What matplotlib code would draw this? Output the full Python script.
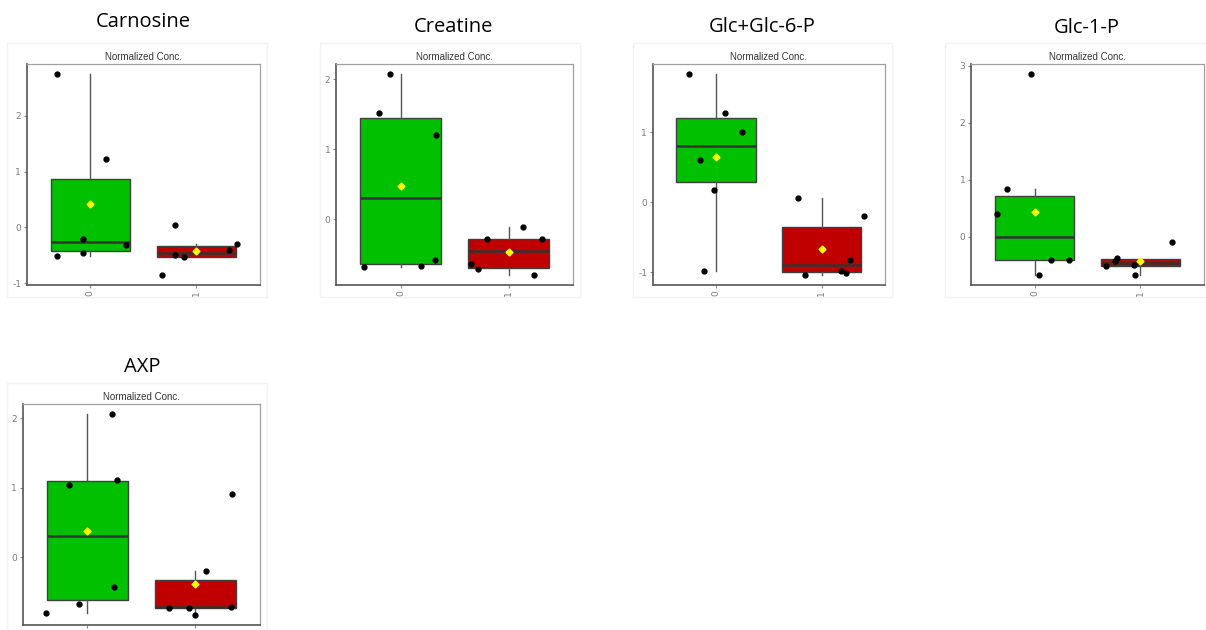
import numpy as np
import matplotlib
matplotlib.use("Agg")
import matplotlib.pyplot as plt
from matplotlib.ticker import MultipleLocator
from matplotlib.patches import Rectangle

plt.rcParams['axes.unicode_minus'] = False

# ---------------- data ----------------
titles = ["Carnosine", "Creatine", "Glc+Glc-6-P", "Glc-1-P", "AXP"]
group_labels = ["0", "1"]
subtitle = "Normalized Conc."

carnosine_g0 = [2.74, 1.22, -0.20, -0.46, -0.51, -0.31]
carnosine_g1 = [0.05, -0.85, -0.50, -0.53, -0.41, -0.30]
carnosine_j0 = [-0.31, 0.15, -0.07, -0.07, -0.31, 0.34]
carnosine_j1 = [-0.20, -0.32, -0.20, -0.12, 0.31, 0.38]

creatine_g0 = [2.07, 1.52, 1.20, -0.68, -0.67, -0.59]
creatine_g1 = [-0.11, -0.28, -0.28, -0.64, -0.72, -0.80]
creatine_j0 = [-0.10, -0.20, 0.33, -0.34, 0.19, 0.32]
creatine_j1 = [0.13, -0.20, 0.31, -0.35, -0.28, 0.24]

glc6p_g0 = [1.83, 1.27, 1.00, 0.61, 0.18, -0.98]
glc6p_g1 = [0.06, -0.20, -0.82, -0.98, -1.01, -1.04]
glc6p_j0 = [-0.26, 0.08, 0.25, -0.15, -0.02, -0.11]
glc6p_j1 = [-0.22, 0.40, 0.27, 0.18, 0.23, -0.16]

glc1p_g0 = [2.85, 0.83, 0.40, -0.40, -0.41, -0.67]
glc1p_g1 = [-0.10, -0.37, -0.43, -0.51, -0.49, -0.67]
glc1p_j0 = [-0.03, -0.26, -0.35, 0.16, 0.33, 0.04]
glc1p_j1 = [0.30, -0.22, -0.24, -0.33, -0.06, -0.05]

axp_g0 = [2.06, 1.11, 1.04, -0.43, -0.67, -0.80]
axp_g1 = [0.91, -0.20, -0.73, -0.73, -0.71, -0.83]
axp_j0 = [0.23, 0.27, -0.17, 0.25, -0.08, -0.38]
axp_j1 = [0.34, 0.10, -0.24, -0.06, 0.33, 0.00]

values = [(carnosine_g0, carnosine_g1), (creatine_g0, creatine_g1),
          (glc6p_g0, glc6p_g1), (glc1p_g0, glc1p_g1), (axp_g0, axp_g1)]
jitters = [(carnosine_j0, carnosine_j1), (creatine_j0, creatine_j1),
           (glc6p_j0, glc6p_j1), (glc1p_j0, glc1p_j1), (axp_j0, axp_j1)]

# ---------------- layout (pixels) ----------------
W, H = 1206, 630
# frame: left, top, right, bottom
frames = [(26.7, 64.3, 260, 285), (336, 64.3, 573.3, 285),
          (652.7, 64.3, 885, 285), (971, 64.3, 1204, 285),
          (22.7, 404.3, 260, 625)]
title_pos = [(143, 22), (453, 27), (762, 27), (1087, 28), (142, 367)]
bg_boxes = [(7, 43, 267, 297), (320, 43, 580, 297), (633, 43, 892, 297),
            (945, 43, 1215, 297), (7, 383, 267, 640)]
# the bottom panel is cut at the image edge in the reference: no visible x labels
show_xlabels = [True, True, True, True, False]

box_colors = ["#00C000", "#C00000"]

fig = plt.figure(figsize=(W / 100, H / 100), dpi=100)

for i, title in enumerate(titles):
    # faint plot background border
    bl, bt, br, bb = bg_boxes[i]
    fig.patches.append(Rectangle((bl / W, 1 - bb / H), (br - bl) / W, (bb - bt) / H,
                                 transform=fig.transFigure, fill=False,
                                 edgecolor="#f2f2f2", linewidth=1.0, zorder=0))
    l, t, r, b = frames[i]
    ax = fig.add_axes([l / W, 1 - b / H, (r - l) / W, (b - t) / H])
    g0, g1 = values[i]
    j0, j1 = jitters[i]

    bp = ax.boxplot([g0, g1], positions=[0, 1], widths=0.75, patch_artist=True,
                    showfliers=False, showcaps=False, showmeans=True,
                    whis=1.5,
                    medianprops=dict(color="#333333", linewidth=1.8),
                    whiskerprops=dict(color="#555555", linewidth=1.0),
                    boxprops=dict(edgecolor="#404040", linewidth=1.0),
                    meanprops=dict(marker="D", markerfacecolor="#FFFF00",
                                   markeredgecolor="#FFFF00", markersize=3.5),
                    zorder=2)
    for patch, c in zip(bp["boxes"], box_colors):
        patch.set_facecolor(c)
    for m in bp["means"]:
        m.set_zorder(5)

    for gi, (vals, jit) in enumerate(((g0, j0), (g1, j1))):
        ax.plot(np.array(jit) + gi, vals, "o", color="black", markersize=3.5,
                linestyle="none", zorder=4)

    allv = np.array(list(g0) + list(g1))
    lo, hi = allv.min(), allv.max()
    pad = 0.05 * (hi - lo)
    ax.set_ylim(lo - pad, hi + pad)
    ax.set_xlim(-0.6, 1.6)
    ax.set_xticks([0, 1])
    if show_xlabels[i]:
        ax.set_xticklabels(group_labels, rotation=90)
    else:
        ax.set_xticklabels([])
    ax.yaxis.set_major_locator(MultipleLocator(1))
    ax.yaxis.set_major_formatter(matplotlib.ticker.FormatStrFormatter("%d"))
    ax.tick_params(axis="both", labelsize=6.5, colors="#888888",
                   labelcolor="#7a7a7a", length=2.5, width=0.8, pad=1.5)
    for side in ("left", "bottom"):
        ax.spines[side].set_color("#555555")
        ax.spines[side].set_linewidth(1.2)
    for side in ("top", "right"):
        ax.spines[side].set_color("#a0a0a0")
        ax.spines[side].set_linewidth(0.9)

    ax.set_title(subtitle, fontsize=7, color="#333333", pad=3,
                 family="Liberation Sans")

    tx, ty = title_pos[i]
    fig.text(tx / W, 1 - ty / H, title, ha="center", va="center",
             fontsize=14.5, family="Open Sans", color="black")

fig.savefig("out.png", dpi=100)
